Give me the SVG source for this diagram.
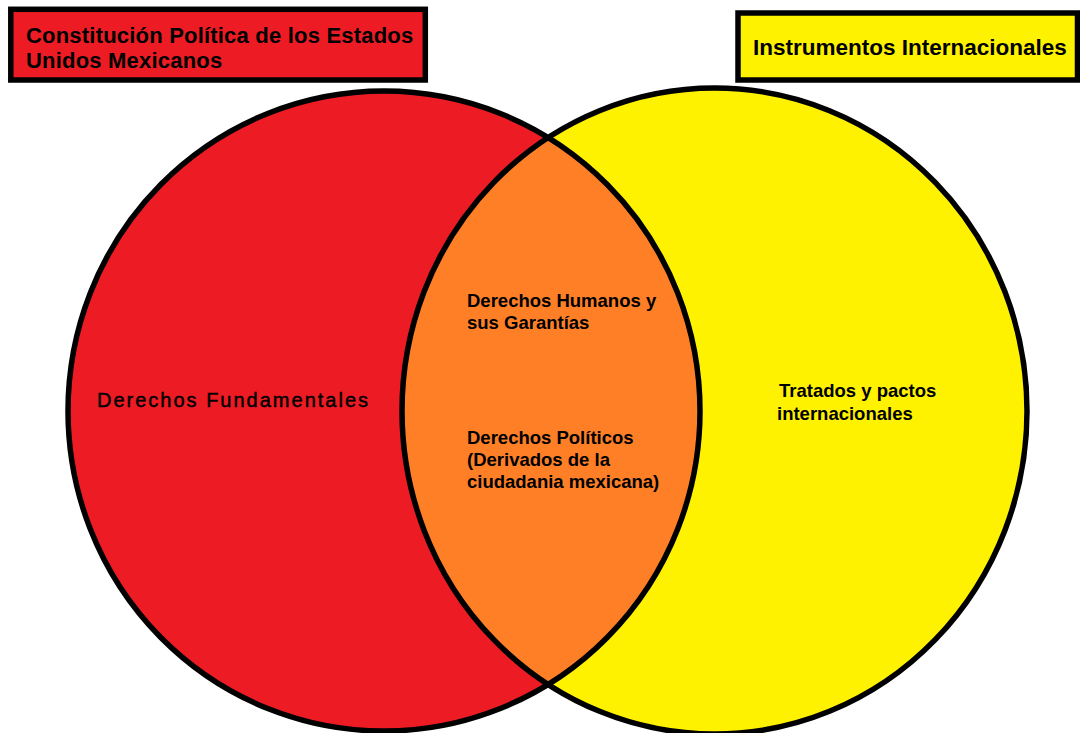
<svg xmlns="http://www.w3.org/2000/svg" width="1080" height="733" viewBox="0 0 1080 733">
  <style>
    .outline { fill: none; stroke: #000; stroke-width: 5.5; }
    .box { stroke: #000; stroke-width: 5.5; }
    .title { font-family: "Liberation Sans", Arial, sans-serif; font-weight: bold; fill: #000; }
    .label { font-family: "Liberation Sans", Arial, sans-serif; font-weight: bold; font-size: 18.5px; fill: #000; }
    .big { font-family: "Liberation Sans", Arial, sans-serif; font-size: 20px; letter-spacing: 2px; fill: #000; stroke: #000; stroke-width: 0.45px; }
  </style>
  <defs>
    <clipPath id="leftClip">
      <ellipse cx="384" cy="411" rx="316" ry="320"/>
    </clipPath>
  </defs>
  <rect x="0" y="0" width="1080" height="733" fill="#fff"/>

  <g id="set-constitucion">
    <ellipse cx="384" cy="411" rx="316" ry="320" fill="#ED1C24"/>
  </g>
  <g id="set-instrumentos">
    <ellipse cx="714.5" cy="411" rx="312.5" ry="323" fill="#FFF200"/>
  </g>
  <g id="interseccion">
    <ellipse cx="714.5" cy="411" rx="312.5" ry="323" fill="#FF7F27" clip-path="url(#leftClip)"/>
  </g>
  <g id="contornos">
    <ellipse class="outline" cx="384" cy="411" rx="316" ry="320"/>
    <ellipse class="outline" cx="714.5" cy="411" rx="312.5" ry="323"/>
  </g>

  <g id="titulo-constitucion">
    <rect class="box" x="10.8" y="9.3" width="414.5" height="70.7" fill="#ED1C24"/>
    <text class="title" font-size="22" x="26" y="43" letter-spacing="0.2">Constitución Política de los Estados</text>
    <text class="title" font-size="22" x="26" y="68" letter-spacing="0.2">Unidos Mexicanos</text>
  </g>
  <g id="titulo-instrumentos">
    <rect class="box" x="738" y="13" width="339.5" height="67" fill="#FFF200"/>
    <text class="title" font-size="22.5" x="753" y="55">Instrumentos Internacionales</text>
  </g>

  <g id="derechos-fundamentales">
    <text class="big" x="97" y="407">Derechos Fundamentales</text>
  </g>
  <g id="derechos-humanos">
    <text class="label" x="467" y="307">Derechos Humanos y</text>
    <text class="label" x="467" y="329">sus Garantías</text>
  </g>
  <g id="derechos-politicos">
    <text class="label" x="467" y="444">Derechos Políticos</text>
    <text class="label" x="467" y="466">(Derivados de la</text>
    <text class="label" x="467" y="488">ciudadania mexicana)</text>
  </g>
  <g id="tratados">
    <text class="label" x="779" y="397">Tratados y pactos</text>
    <text class="label" x="777" y="420">internacionales</text>
  </g>
</svg>
